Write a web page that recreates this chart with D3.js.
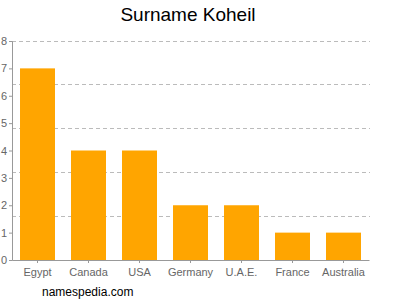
<!DOCTYPE html>
<html><head><meta charset="utf-8">
<script src="https://cdn.jsdelivr.net/npm/d3@7/dist/d3.min.js"></script>
<style>body{margin:0;background:#fff}svg{display:block}</style>
</head><body>
<script>
const categories = ["Egypt","Canada","USA","Germany","U.A.E.","France","Australia"];
const values = [7,4,4,2,2,1,1];
const yTicks = [0,1,2,3,4,5,6,7,8];
const gridValues = [1.6,3.2,4.8,6.4,8];

const W=400,H=300;
const svg=d3.select("body").append("svg").attr("width",W).attr("height",H)
  .style("font-family","Liberation Sans, Arial, sans-serif");
const x=d3.scaleBand().domain(categories).range([12,369]).paddingInner(0.314).paddingOuter(0.157);
const y=d3.scaleLinear().domain([0,8]).range([260,41]);

svg.append("g").selectAll("line").data(gridValues).join("line")
  .attr("x1",12).attr("x2",370).attr("y1",d=>y(d)).attr("y2",d=>y(d))
  .attr("stroke","#bbb").attr("stroke-dasharray","4,3").attr("shape-rendering","crispEdges");

svg.append("g").selectAll("rect").data(values).join("rect")
  .attr("x",(d,i)=>x(categories[i])).attr("width",x.bandwidth())
  .attr("y",d=>y(d)).attr("height",d=>y(0)-y(d)).attr("fill","#ffa500");

const ya=svg.append("g").attr("transform","translate(12,0)")
  .call(d3.axisLeft(y).tickValues(yTicks).tickSize(3).tickPadding(2).tickFormat(d3.format("d")));
ya.select(".domain").attr("stroke","#999");
ya.selectAll(".tick line").attr("stroke","#999");
ya.selectAll("text").attr("fill","#666").style("font-size","11px");

const xa=svg.append("g").attr("transform","translate(0,260)")
  .call(d3.axisBottom(x).tickSize(3).tickPadding(5).tickSizeOuter(0));
xa.select(".domain").attr("stroke","#999");
xa.selectAll(".tick line").attr("stroke","#999");
xa.selectAll("text").attr("fill","#666").style("font-size","11px");

svg.append("text").attr("x",188).attr("y",21).attr("text-anchor","middle")
  .style("font-size","19px").attr("fill","#000").text("Surname Koheil");
svg.append("text").attr("x",42).attr("y",296).style("font-size","12px").attr("fill","#000").text("namespedia.com");
</script>
</body></html>
